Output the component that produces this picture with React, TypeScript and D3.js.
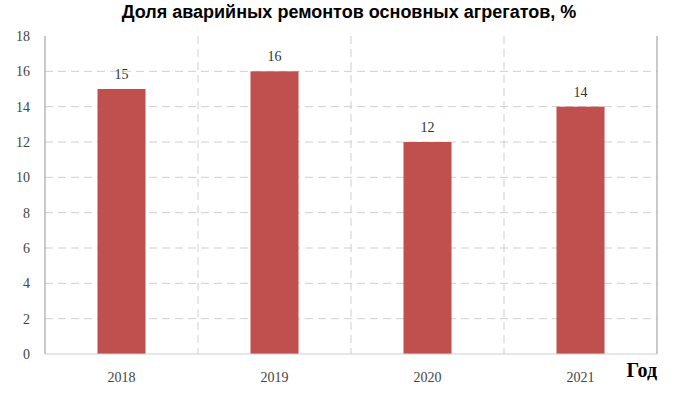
import React from 'react';
import * as d3 from 'd3';

const years = ['2018', '2019', '2020', '2021'];
const values = [15, 16, 12, 14];
const yTicks = [0, 2, 4, 6, 8, 10, 12, 14, 16, 18];

export default function App() {
  const W = 677;
  const H = 398;
  const margin = { top: 36, right: 20, bottom: 44, left: 45 };
  const plotW = W - margin.left - margin.right;
  const plotH = H - margin.top - margin.bottom;

  const x = d3.scaleBand().domain(years).range([0, plotW]).paddingInner(0.686).paddingOuter(0.343);
  const y = d3.scaleLinear().domain([0, 18]).range([plotH, 0]);
  const step = plotW / years.length;

  const serif = '"Liberation Serif", "Times New Roman", serif';

  return (
    <div style={{ position: 'absolute', left: 0, top: 0 }}>
      <svg width={W} height={H} style={{ display: 'block', background: '#fff' }}>
        <text x={349} y={18} textAnchor="middle" fontFamily='"Liberation Sans", Arial, sans-serif' fontWeight="bold" fontSize={18} fill="#000">
          Доля аварийных ремонтов основных агрегатов, %
        </text>
        <g transform={`translate(${margin.left},${margin.top})`}>
          {yTicks.filter(t => t > 0 && t < 18).map(t => (
            <line key={t} x1={0} x2={plotW} y1={y(t)} y2={y(t)} stroke="#cfcfcf" strokeWidth={1} strokeDasharray="8,5" />
          ))}
          {d3.range(1, years.length).map(i => (
            <line key={i} x1={i * step} x2={i * step} y1={0} y2={plotH} stroke="#cfcfcf" strokeWidth={1} strokeDasharray="8,5" />
          ))}
          {years.map((yr, i) => (
            <g key={yr}>
              <rect x={x(yr)} y={y(values[i])} width={x.bandwidth()} height={plotH - y(values[i])} fill="#C0504D" />
              <text x={(x(yr) as number) + x.bandwidth() / 2} y={y(values[i]) - 10} textAnchor="middle" fontFamily={serif} fontSize={14} fill="#333">
                {values[i]}
              </text>
              <text x={(x(yr) as number) + x.bandwidth() / 2} y={plotH + 28} textAnchor="middle" fontFamily={serif} fontSize={14} fill="#444">
                {yr}
              </text>
            </g>
          ))}
          <line x1={0} x2={0} y1={0} y2={plotH} stroke="#a6a6a6" strokeWidth={1.2} />
          <line x1={plotW} x2={plotW} y1={0} y2={plotH} stroke="#a6a6a6" strokeWidth={1.2} />
          <line x1={0} x2={plotW} y1={plotH} y2={plotH} stroke="#d0d0d0" strokeWidth={1.2} />
          {yTicks.map(t => (
            <text key={t} x={-15} y={y(t) + 5} textAnchor="end" fontFamily={serif} fontSize={14} fill="#444">
              {t}
            </text>
          ))}
          <text x={plotW} y={plotH + 23} textAnchor="end" fontFamily={serif} fontWeight="bold" fontSize={20} fill="#000">
            Год
          </text>
        </g>
      </svg>
    </div>
  );
}
